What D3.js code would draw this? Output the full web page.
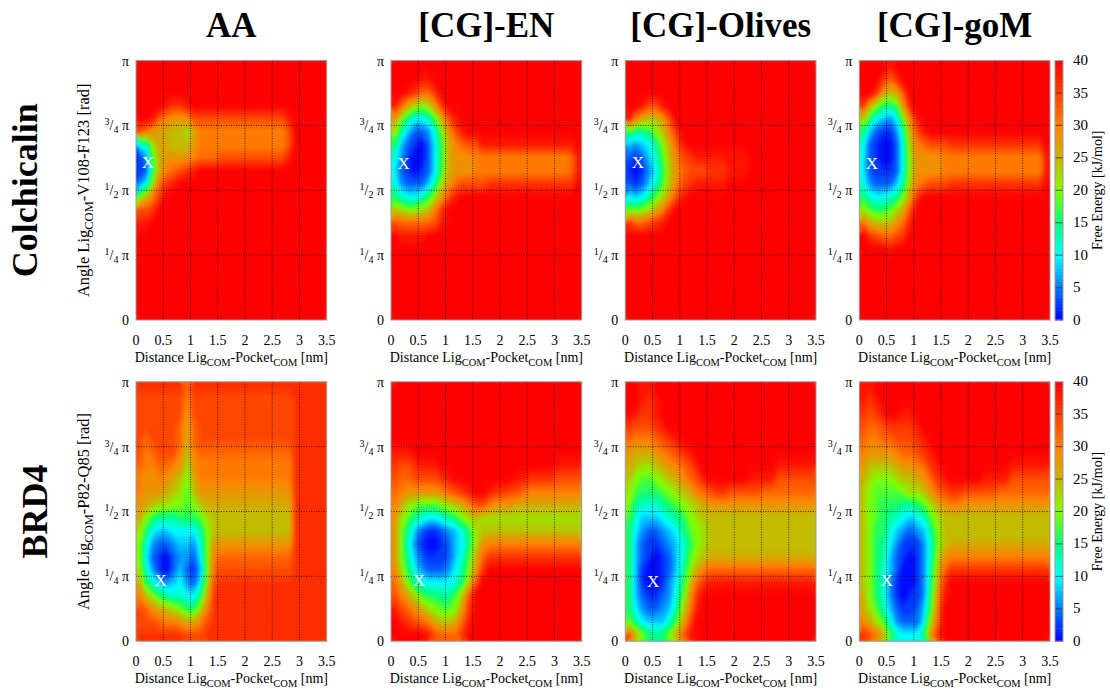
<!DOCTYPE html>
<html>
<head>
<meta charset="utf-8">
<script src="https://cdnjs.cloudflare.com/ajax/libs/d3/7.8.5/d3.min.js"></script>
<style>
  body { margin: 0; background: #fff; }
  svg { display: block; font-family: 'Liberation Serif', 'Times New Roman', serif; }
</style>
</head>
<body>
<div id="chart"></div>
<script>
// column / row headings
const systems = ['AA', '[CG]-EN', '[CG]-Olives', '[CG]-goM'];
const proteins = ['Colchicalin', 'BRD4'];
const angleResidues = ['V108-F123', 'P82-Q85'];

// axis ticks
const xTicks = [0, 0.5, 1, 1.5, 2, 2.5, 3, 3.5];
const xGrid = [0.5, 1, 1.5, 2, 2.5, 3];
const yTicks = [0, 0.25, 0.5, 0.75, 1];        // multiples of pi
const yTickNum = [null, '1', '1', '3', null];
const yTickDen = [null, '4', '2', '4', null];
const yGrid = [0.25, 0.5, 0.75];
const cbTicks = [0, 5, 10, 15, 20, 25, 30, 35, 40];
const cbColors = ['#0000ff', '#0078ff', '#00ffff', '#00ff80', '#80ff00', '#c8b400', '#ff8000', '#ff4000', '#ff0000'];

// free energy maps.
// 28 columns (0 .. 3.5 nm, 0.125 nm each), 20 rows (pi at the top .. 0, pi/20 each)
// one char per cell: base-36 digit * 2 kJ/mol  ('0' = 0, 'a' = 20, 'f' = 30, 'k' = 40)
const feColAA = [
  'kkkkkkkkkkkkkkkkkkkkkkkkkkkk',
  'kkkkkkkkkkkkkkkkkkkkkkkkkkkk',
  'kkkkkkkkkkkkkkkkkkkkkkkkkkkk',
  'kkkk jiij kkkkkkkkkkkkkkkkkkkk',
  'kkjgfeee hhhhhhhhhhhhhh j kkkkk',
  'hfeddccb d fffffffffffff h kkkkk',
  '56bddccc e fffffffffffff h kkkkk',
  '139deeee f ggg hhhhhhhhhh j kkkkk',
  '128dfghij kkkkkkkkkkkkkkkkkkk',
  '35bgij kkkkkkkkkkkkkkkkkkkkkk',
  'acfi kkkkkkkkkkkkkkkkkkkkkkkk',
  'hhi kkkkkkkkkkkkkkkkkkkkkkkkk',
  'jj kkkkkkkkkkkkkkkkkkkkkkkkkk',
  'kkkkkkkkkkkkkkkkkkkkkkkkkkkk',
  'kkkkkkkkkkkkkkkkkkkkkkkkkkkk',
  'kkkkkkkkkkkkkkkkkkkkkkkkkkkk',
  'kkkkkkkkkkkkkkkkkkkkkkkkkkkk',
  'kkkkkkkkkkkkkkkkkkkkkkkkkkkk',
  'kkkkkkkkkkkkkkkkkkkkkkkkkkkk',
  'kkkkkkkkkkkkkkkkkkkkkkkkkkkk'
];
const feColEN = [
  'kkkkkkkkkkkkkkkkkkkkkkkkkkkk',
  'kkkkjj kkkkkkkkkkkkkkkkkkkkkk',
  'kkjiggi kkkkkkkkkkkkkkkkkkkkk',
  'jgdbabei kkkkkkkkkkkkkkkkkkkk',
  'ea75569dhj kkkkkkkkkkkkkkkkkk',
  'b742236aehj kkkkkkkkkkkkkkkkk',
  '8421025 9dfg hh jjjjjjjjjjjjjj k',
  '6310025 9de ee ffffffffffffff g j',
  '5210125 9de ee ffffffffffffff g j',
  '6322247 beg hhhh iiiiiiiiiiiii k',
  '865568behj kkkkkkkkkkkkkkkkkk',
  'cbaabcfi kkkkkkkkkkkkkkkkkkkk',
  'hggggghj kkkkkkkkkkkkkkkkkkkk',
  'kjjjjk kkkkkkkkkkkkkkkkkkkkkk',
  'kkkkkkkkkkkkkkkkkkkkkkkkkkkk',
  'kkkkkkkkkkkkkkkkkkkkkkkkkkkk',
  'kkkkkkkkkkkkkkkkkkkkkkkkkkkk',
  'kkkkkkkkkkkkkkkkkkkkkkkkkkkk',
  'kkkkkkkkkkkkkkkkkkkkkkkkkkkk',
  'kkkkkkkkkkkkkkkkkkkkkkkkkkkk'
];
const feColOL = [
  'kkkkkkkkkkkkkkkkkkkkkkkkkkkk',
  'kkkkkkkkkkkkkkkkkkkkkkkkkkkk',
  'kkkkkkkkkkkkkkkkkkkkkkkkkkkk',
  'kkjhhj kkkkkkkkkkkkkkkkkkkkkk',
  'jfdcceh kkkkkkkkkkkkkkkkkkkkk',
  '9778acfi kkkkkkkkkkkkkkkkkkkk',
  '43457adgj kkkkkkkkkkkkkkkkkkk',
  '212469cfhi jjjjjjjj kkkkkkkkkk',
  '101358cegh hh iii jjj kkkkkkkkkk',
  '212469cfhi jjjjj kkkkkkkkkkkkk',
  '54579behj kkkkkkkkkkkkkkkkkkk',
  'a9abdfi kkkkkkkkkkkkkkkkkkkkk',
  'igghij kkkkkkkkkkkkkkkkkkkkkk',
  'kkkkkkkkkkkkkkkkkkkkkkkkkkkk',
  'kkkkkkkkkkkkkkkkkkkkkkkkkkkk',
  'kkkkkkkkkkkkkkkkkkkkkkkkkkkk',
  'kkkkkkkkkkkkkkkkkkkkkkkkkkkk',
  'kkkkkkkkkkkkkkkkkkkkkkkkkkkk',
  'kkkkkkkkkkkkkkkkkkkkkkkkkkkk',
  'kkkkkkkkkkkkkkkkkkkkkkkkkkkk'
];
const feColGO = [
  'kkkkj kkkkkkkkkkkkkkkkkkkkkkk',
  'kkkigi kkkkkkkkkkkkkkkkkkkkkk',
  'kkiecdh kkkkkkkkkkkkkkkkkkkkk',
  'ida879ej kkkkkkkkkkkkkkkkkkkk',
  'c85435afj kkkkkkkkkkkkkkkkkkk',
  '8421137dhj kkkkkkkkkkkkkkkkkk',
  '6210026cfg hhh iiiiiiiiiiiiii k',
  '5210026bee ee fffffffffffffff j',
  '5211126bee ee fffffffffffffff j',
  '6322247cfg hhh iiiiiiiiiiiiii k',
  '865567aei kkkkkkkkkkkkkkkkkkk',
  'b9889bdh kkkkkkkkkkkkkkkkkkkk',
  'gdcccegj kkkkkkkkkkkkkkkkkkkk',
  'kihgghi kkkkkkkkkkkkkkkkkkkkk',
  'kkkkj kkkkkkkkkkkkkkkkkkkkkkk',
  'kkkkkkkkkkkkkkkkkkkkkkkkkkkk',
  'kkkkkkkkkkkkkkkkkkkkkkkkkkkk',
  'kkkkkkkkkkkkkkkkkkkkkkkkkkkk',
  'kkkkkkkkkkkkkkkkkkkkkkkkkkkk',
  'kkkkkkkkkkkkkkkkkkkkkkkkkkkk'
];
const feBrdAA = [
  'iiiiiii g iiiiiiiiiiiiiiiiiiii',
  'hhhhhhh f hhhhhhhhhhhhhhh iiiii',
  'hhhhhhh e hhhhhhhhhhhhhhh iiiii',
  'hhhhhhg d g hhhhhhhhhhhhhh iiiii',
  'hghhhhg d g hhhhhhhhhhhhhh iiiii',
  'hfghhhf c f gggggggggggggg iiiii',
  'gffggfe b e ffffffffffffff iiiii',
  'feefedc a d ffffffffffffff iiiii',
  'feeedcb 9 c eeeeeeeeeeeeee iiiii',
  'edcbbaa 9 a c ddddddddddddd iiiii',
  'da87778 889b cccccccccccc iiiii',
  'b854455 557a cccccccccccc iiiii',
  'a632234 436a eeeeeeeeeeee iiiii',
  'a521023 325a f ggggggggggg iiiii',
  'b631024 214a g hhhhhhhhhhh iiiii',
  'd864345 325b h iiiiiiiiiiiiiiii',
  'fca8766 558d iiiiiiiiiiiiiiiii',
  'hgedcba 88bf iiiiiiiiiiiiiiiii',
  'hhhgffe ddfh iiiiiiiiiiiiiiiii',
  'iiiiiii hhh iiiiiiiiiiiiiiiiii'
];
const feBrdEN = [
  'kkkkkkkkkkkkkkkkkkkkkkkkkkkk',
  'kkkkkkkkkkkkkkkkkkkkkkkkkkkk',
  'kkkkkkkkkkkkkkkkkkkkkkkkkkkk',
  'kkkkkkkkkkkkkkkkkkkkkkkkkkkk',
  'kkkkkkkkkkkkkkkkkkkkkkkkkkkk',
  'jjj kkkkkkkkkkkkkkkkkkkkkkkkk',
  'ihhijjj kkkkkkkkkkkkkkkkk jjjj',
  'hgghhhh ij kkkkkk kkkjj iiii hhhh',
  'gfeeeee fghij kk jiihhg ffffffff',
  'fdba999 abcdf hh feeedd dddddddd',
  'eb97655 678a b c bbbbbbbbbbbbbbb',
  'ea74211 2346 8 b c cccccccccccccc',
  'ea63100 1245 8 b e ffffffffffffff',
  'ea74211 1246 9 d g iiiiiiiiiiiiii',
  'fb85322 2357 a e i kkkkkkkkkkkkkk',
  'gda7655 5568 c h k kkkkkkkkkkkkkk',
  'hfdb988 779c h k k kkkkkkkkkkkkkk',
  'jhgedba 99ae i k k kkkkkkkkkkkkkk',
  'kjihgfd ccdg j k k kkkkkkkkkkkkkk',
  'kkkkkjh gggi k k k kkkkkkkkkkkkkk'
];
const feBrdOL = [
  'kkjj kkkkkkkkkkkkkkkkkkkkkkkk',
  'kkjij kkkkkkkkkkkkkkkkkkkkkkk',
  'kjiij kkkkkkkkkkkkkkkkkkkkkkk',
  'ihhhij kkkkkkkkkkkkkkkkkkkkkk',
  'gfffghij kkkkkkkkkkkkkkkkkkkk',
  'edddefghij kkkkkkkkkkkkkkkkkk',
  'dcbbcdefgh j kkkkkkkkkkk jjjjjj',
  'ca99abcdeg hj kkkkkk jjjj hhhhhh',
  'b98889abcd fghii hhhhh gggggggg',
  'a7666789ab cdee eeeeeeeeeeeeee',
  '964445678a bcc ccccccccccccccc',
  '8532234579 ab cccccccccccccccc',
  '8421123468 ab cccccccccccccccc',
  '8421012469 bc dddddddddddddddd',
  '841001247a df gggggggggggggggg',
  '841001358c gi jjjjjjjjjjjjjjjj',
  '842112369e i kkkkkkkkkkkkkkkkk',
  '85322347bf j kkkkkkkkkkkkkkkkk',
  'a7544469dh kkkkkkkkkkkkkkkkkk',
  'hda878adgj kkkkkkkkkkkkkkkkkk'
];
const feBrdGO = [
  'jj kkkkkkkkkkkkkkkkkkkkkkkkkk',
  'jij kkkkkkkkkkkkkkkkkkkkkkkkk',
  'ihijkkjj kkkkkkkkkkkkkkkkkkkk',
  'hgghiiiijk kkkkkkkkkkkkkkkkkk',
  'gffgghhhij kkkkkkkkkkkkkkkkkk',
  'feeeefgghij kkkkkkkkkkkkkkkkk',
  'eccccdeefgij kkkkkkkkkk jjjjjj',
  'dbaaabccdegij kkkkk jjjj hhhhhh',
  'ca9999abbceghii hhhhh gggggggg',
  'ca98887789bdeff eeeeeeeeeeeee',
  'ca987654569bc ccccccccccccccc',
  'ca886432347ac ccccccccccccccc',
  'ca875311136ac ddddddddddddddd',
  'ca874210136be fffffffffffffff',
  'ca864200137cg iiiiiiiiiiiiiii',
  'ca863100137di kkkkkkkkkkkkkkk',
  'da863101138ej kkkkkkkkkkkkkkk',
  'db974211249fk kkkkkkkkkkkkkkk',
  'fdb9632225bgk kkkkkkkkkkkkkkk',
  'ihfd965558eik kkkkkkkkkkkkkkk'
];

// global minima ("X"): [distance nm, angle / pi]
const minCol = [[0.22, 0.61], [0.23, 0.604], [0.23, 0.607], [0.23, 0.604]];
const minBrd = [[0.45, 0.235], [0.51, 0.237], [0.51, 0.23], [0.5, 0.237]];

const grids = [[feColAA, feColEN, feColOL, feColGO], [feBrdAA, feBrdEN, feBrdOL, feBrdGO]];
const minima = [minCol, minBrd];

const nx = 28, ny = 20;
const width = 1110, height = 690;
const panelX = [136, 391, 625.3, 859.3];
const rowY = [60.6, 381.8];
const rowLabelX = [37, 47];
const pw = 190.7, ph = 259.4;
const cbX = 1055, cbW = 8;

function decode(rows) {
    const values = [];
    rows.forEach(row => {
        let s = row.replace(/ /g, '');
        s = s.padEnd(nx, s[s.length - 1]).slice(0, nx);
        for (let i = 0; i < nx; i++) values.push(parseInt(s[i], 36) * 2);
    });
    return values;
}

const color = d3.scaleLinear().domain(cbTicks).range(cbColors).clamp(true);
const contours = d3.contours().size([nx, ny]).thresholds(d3.range(0, 41, 1));

const svg = d3.select('#chart').append('svg')
    .attr('width', width)
    .attr('height', height);

const defs = svg.append('defs');
const soft = defs.append('filter')
    .attr('id', 'soft')
    .attr('color-interpolation-filters', 'sRGB')
    .attr('x', '-5%').attr('y', '-5%').attr('width', '110%').attr('height', '110%');
soft.append('feGaussianBlur').attr('stdDeviation', 1.6);
soft.append('feComponentTransfer').append('feFuncA').attr('type', 'linear').attr('slope', 40);

// column titles
svg.append('g').selectAll('text')
    .data(systems)
    .join('text')
    .attr('x', (d, i) => panelX[i] + pw / 2)
    .attr('y', 37)
    .attr('text-anchor', 'middle')
    .style('font-size', '35px')
    .style('font-weight', 'bold')
    .text(d => d);

proteins.forEach((prot, r) => {
    const top = rowY[r];

    // row label
    svg.append('text')
        .attr('transform', `translate(${rowLabelX[r]},${top + ph / 2}) rotate(-90)`)
        .attr('text-anchor', 'middle')
        .style('font-size', '36px')
        .style('font-weight', 'bold')
        .text(prot);

    // y axis title (first column only)
    const yt = svg.append('text')
        .attr('transform', `translate(89,${top + ph / 2}) rotate(-90)`)
        .attr('text-anchor', 'middle')
        .style('font-size', '16.5px');
    yt.append('tspan').text('Angle Lig');
    yt.append('tspan').attr('dy', 4).style('font-size', '12.5px').text('COM');
    yt.append('tspan').attr('dy', -4).text('-' + angleResidues[r] + ' [rad]');

    systems.forEach((sys, c) => {
        const g = svg.append('g')
            .attr('transform', `translate(${panelX[c]},${top})`);

        const x = d3.scaleLinear().domain([0, 3.5]).range([0, pw]);
        const y = d3.scaleLinear().domain([0, Math.PI]).range([ph, 0]);

        const clipId = `clip-${r}-${c}`;
        defs.append('clipPath').attr('id', clipId)
            .append('rect').attr('width', pw).attr('height', ph);

        const gridToData = d3.geoTransform({
            point(px, py) {
                this.stream.point(x(px * 3.5 / nx), y(Math.PI * (1 - py / ny)));
            }
        });
        const path = d3.geoPath(gridToData);

        g.append('g')
            .attr('clip-path', `url(#${clipId})`)
            .append('g')
            .attr('filter', 'url(#soft)')
            .selectAll('path')
            .data(contours(decode(grids[r][c])))
            .join('path')
            .attr('d', path)
            .attr('fill', d => color(Math.min(d.value + 0.5, 40)));

        // dotted grid
        g.append('g').selectAll('line')
            .data(xGrid)
            .join('line')
            .attr('x1', d => x(d)).attr('x2', d => x(d))
            .attr('y1', 0).attr('y2', ph)
            .attr('stroke', '#000')
            .attr('stroke-opacity', 0.75)
            .attr('stroke-dasharray', '1,1.5');
        g.append('g').selectAll('line')
            .data(yGrid)
            .join('line')
            .attr('x1', 0).attr('x2', pw)
            .attr('y1', d => y(d * Math.PI)).attr('y2', d => y(d * Math.PI))
            .attr('stroke', '#000')
            .attr('stroke-opacity', 0.75)
            .attr('stroke-dasharray', '1,1.5');

        g.append('rect')
            .attr('width', pw)
            .attr('height', ph)
            .attr('fill', 'none')
            .attr('stroke', '#999')
            .attr('stroke-width', 1);

        // minimum marker
        const m = minima[r][c];
        g.append('text')
            .attr('x', x(m[0]))
            .attr('y', y(m[1] * Math.PI))
            .attr('dy', '0.35em')
            .attr('text-anchor', 'middle')
            .style('font-size', '17px')
            .style('fill', '#fff')
            .text('X');

        // x tick labels
        g.append('g').selectAll('text')
            .data(xTicks)
            .join('text')
            .attr('x', d => x(d))
            .attr('y', ph + 25)
            .attr('text-anchor', 'middle')
            .style('font-size', '14px')
            .text(d => d);

        // x axis title
        const xt = g.append('text')
            .attr('x', pw / 2)
            .attr('y', ph + 42)
            .attr('text-anchor', 'middle')
            .style('font-size', '14px');
        xt.append('tspan').text('Distance Lig');
        xt.append('tspan').attr('dy', 4).style('font-size', '10.5px').text('COM');
        xt.append('tspan').attr('dy', -4).text('-Pocket');
        xt.append('tspan').attr('dy', 4).style('font-size', '10.5px').text('COM');
        xt.append('tspan').attr('dy', -4).text(' [nm]');

        // y tick labels (fractions of pi)
        g.append('g').selectAll('text')
            .data(yTicks)
            .join('text')
            .attr('x', -7)
            .attr('y', d => y(d * Math.PI) + 5)
            .attr('text-anchor', 'end')
            .style('font-size', '14px')
            .each(function (d, i) {
                const t = d3.select(this);
                if (d === 0) { t.text('0'); return; }
                if (d === 1) { t.text('π'); return; }
                t.append('tspan').attr('dy', -5).style('font-size', '10px').text(yTickNum[i]);
                t.append('tspan').attr('dy', 5).text('/');
                t.append('tspan').attr('dy', 3).style('font-size', '10px').text(yTickDen[i]);
                t.append('tspan').attr('dy', -3).text('\u00a0π');
            });
    });

    // colour bar
    const cy = d3.scaleLinear().domain([0, 40]).range([top + ph, top]);
    const cb = svg.append('g');
    cb.selectAll('rect')
        .data(d3.range(0, 40, 0.5))
        .join('rect')
        .attr('x', cbX)
        .attr('y', d => cy(d + 0.5))
        .attr('width', cbW)
        .attr('height', cy(0) - cy(0.5) + 0.5)
        .attr('fill', d => color(d + 0.25));
    cb.selectAll('line')
        .data(cbTicks.slice(1, -1))
        .join('line')
        .attr('x1', cbX).attr('x2', cbX + cbW)
        .attr('y1', d => cy(d)).attr('y2', d => cy(d))
        .attr('stroke', '#333')
        .attr('stroke-width', 0.8);
    cb.append('rect')
        .attr('x', cbX).attr('y', top)
        .attr('width', cbW).attr('height', ph)
        .attr('fill', 'none')
        .attr('stroke', '#999');
    cb.selectAll('text.tick')
        .data(cbTicks)
        .join('text')
        .attr('class', 'tick')
        .attr('x', cbX + 18)
        .attr('y', d => cy(d))
        .attr('dy', '0.3em')
        .style('font-size', '15px')
        .text(d => d);
    cb.append('text')
        .attr('transform', `translate(1102,${top + ph / 2}) rotate(-90)`)
        .attr('text-anchor', 'middle')
        .style('font-size', '14px')
        .text('Free Energy [kJ/mol]');
});
</script>
</body>
</html>
